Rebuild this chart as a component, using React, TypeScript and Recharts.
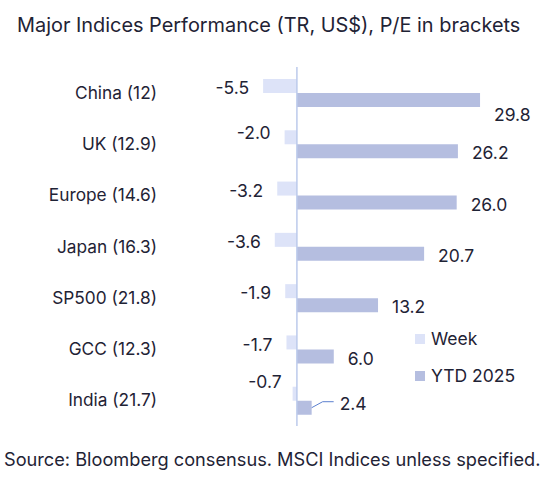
import { BarChart, Bar, XAxis, YAxis, ReferenceLine, Legend, LabelList } from 'recharts';

const categories = ['China (12)', 'UK (12.9)', 'Europe (14.6)', 'Japan (16.3)', 'SP500 (21.8)', 'GCC (12.3)', 'India (21.7)'];
const weekReturns = [-5.5, -2.0, -3.2, -3.6, -1.9, -1.7, -0.7];
const ytdReturns = [29.8, 26.2, 26.0, 20.7, 13.2, 6.0, 2.4];

// small label nudges (dx, dy) copied from the original layout
const weekLabelNudge = [[0, 0], [0, -6], [0, 0], [0, 0], [0, 0], [0, 0], [3, -14]];
const ytdLabelNudge = [[0, 13], [0, 0], [0, 0], [0, 0], [0, 0], [0, 0], [14, -6]];

const data = categories.map((name, i) => ({ name, week: weekReturns[i], ytd: ytdReturns[i] }));

const FONT = 'Inter, "Noto Sans", sans-serif';
const TEXT = '#1f2335';
const WEEK_COLOR = '#dde3f8';
const YTD_COLOR = '#b5bee0';

const makeLabel = (kind: 'week' | 'ytd') => (props: any) => {
  const { x, y, width, height, value, index } = props;
  const left = Math.min(x, x + width);
  const right = Math.max(x, x + width);
  const cy = y + height / 2 + 2;
  const [dx, dy] = (kind === 'week' ? weekLabelNudge : ytdLabelNudge)[index];
  const text = Number(value).toFixed(1);
  if (kind === 'week') {
    return (
      <text x={left - 14 + dx} y={cy + dy} dy="0.35em" textAnchor="end" fontSize={17.5} fill={TEXT} fontFamily={FONT}>
        {text}
      </text>
    );
  }
  const tx = right + 14 + dx;
  return (
    <g>
      {dx > 0 && (
        <polyline
          points={`${right},${y + height / 2} ${right + 11},${cy + dy - 2} ${tx - 6},${cy + dy - 2}`}
          fill="none"
          stroke="#5b7fcf"
          strokeWidth={1}
        />
      )}
      <text x={tx} y={cy + dy} dy="0.35em" textAnchor="start" fontSize={17.5} fill={TEXT} fontFamily={FONT}>
        {text}
      </text>
    </g>
  );
};

const renderLegend = () => (
  <div style={{ fontFamily: FONT, fontSize: 17.5, color: TEXT }}>
    {[{ label: 'Week', color: WEEK_COLOR }, { label: 'YTD 2025', color: YTD_COLOR }].map((item) => (
      <div key={item.label} style={{ display: 'flex', alignItems: 'center', height: 37 }}>
        <span style={{ width: 10, height: 10, background: item.color, marginRight: 6, display: 'inline-block' }} />
        {item.label}
      </div>
    ))}
  </div>
);

export default function App() {
  return (
    <div style={{ position: 'absolute', left: 0, top: 0, width: 550, height: 495, background: '#fff', fontFamily: FONT }}>
      <div style={{ position: 'absolute', left: 17, top: 13, fontSize: 19.9, color: TEXT, whiteSpace: 'nowrap' }}>
        Major Indices Performance (TR, US$), P/E in brackets
      </div>
      <BarChart
        width={550}
        height={495}
        data={data}
        layout="vertical"
        margin={{ top: 67, right: 38, bottom: 69, left: 0 }}
        barCategoryGap={12}
        barGap={0}
      >
        <XAxis type="number" domain={[-20, 35]} hide />
        <YAxis
          type="category"
          dataKey="name"
          width={174}
          axisLine={false}
          tickLine={false}
          tickSize={0}
          tickMargin={17}
          tick={{ fill: TEXT, fontSize: 17.3, fontFamily: FONT }}
        />
        <ReferenceLine x={0} stroke="#bccaeb" strokeWidth={1.5} />
        <Legend
          content={renderLegend}
          layout="vertical"
          align="center"
          verticalAlign="middle"
          wrapperStyle={{ left: 415, top: 320, width: 130, height: 74 }}
        />
        <Bar dataKey="week" name="Week" fill={WEEK_COLOR} isAnimationActive={false}>
          <LabelList dataKey="week" content={makeLabel('week')} />
        </Bar>
        <Bar dataKey="ytd" name="YTD 2025" fill={YTD_COLOR} isAnimationActive={false}>
          <LabelList dataKey="ytd" content={makeLabel('ytd')} />
        </Bar>
      </BarChart>
      <div style={{ position: 'absolute', left: 4, top: 448, fontSize: 18.2, color: TEXT, whiteSpace: 'nowrap' }}>
        Source: Bloomberg consensus. MSCI Indices unless specified.
      </div>
    </div>
  );
}
